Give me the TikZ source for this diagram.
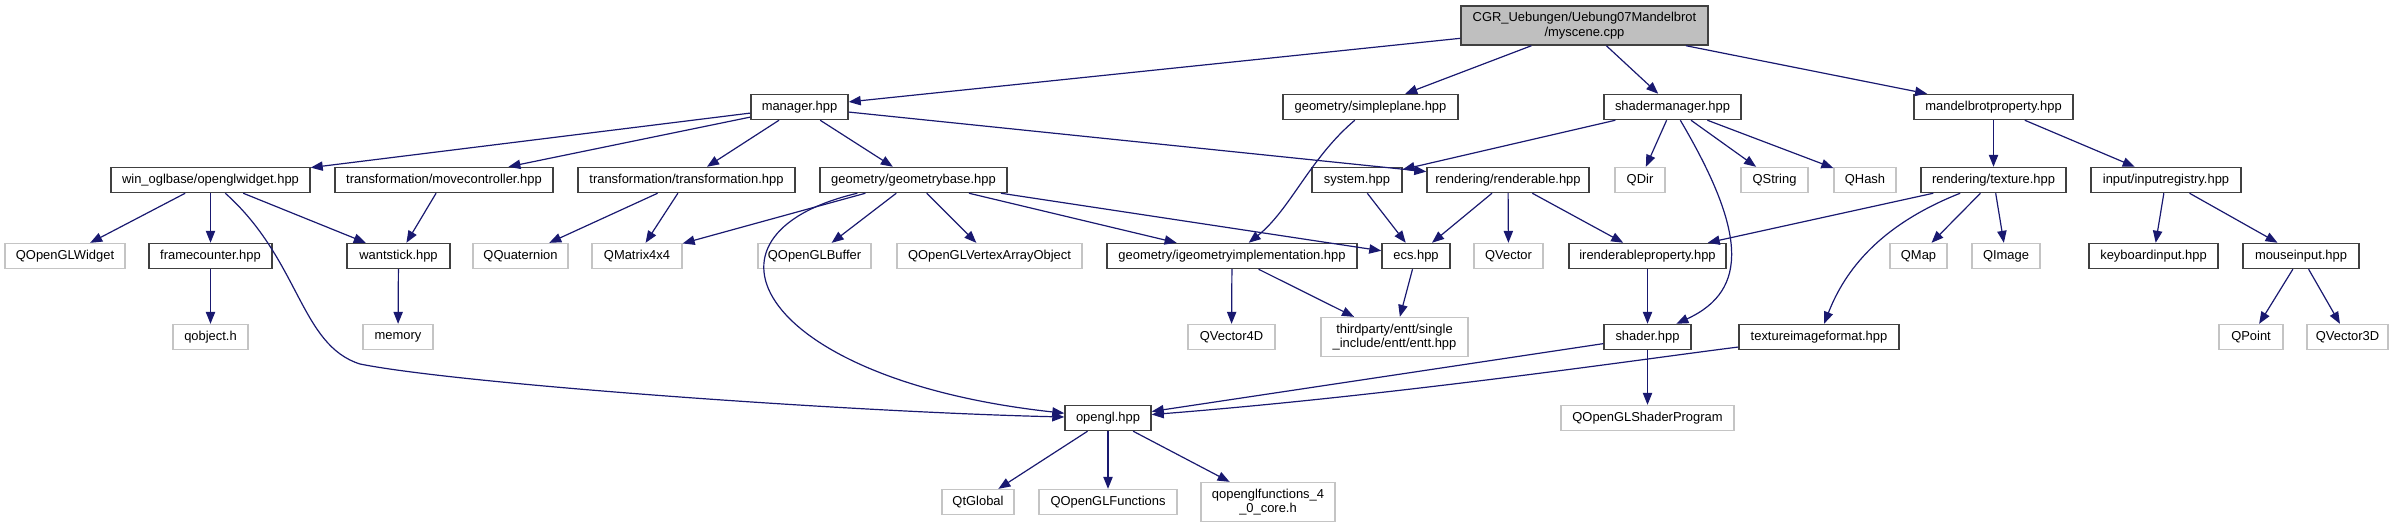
\documentclass[tikz,border=0pt]{standalone}
\usepackage{fontspec}
\setmainfont{Liberation Sans}
\usepackage{xcolor}
\usepackage{tikz}
\usetikzlibrary{arrows.meta}

\definecolor{edgeblue}{HTML}{191970}
\definecolor{darkframe}{HTML}{404040}
\definecolor{lightframe}{HTML}{C4C4C4}
\definecolor{rootfill}{HTML}{BFBFBF}

\begin{document}
\begin{tikzpicture}[
    x=0.75pt, y=-0.75pt,
    header/.style={draw=darkframe, line width=1.1pt, minimum height=18.75pt, inner xsep=2pt, inner ysep=1pt, align=center, font=\fontsize{9.7pt}{10.8pt}\selectfont},
    extern/.style={header, draw=lightframe, line width=1pt},
    srcfile/.style={header, fill=rootfill, minimum height=29.25pt},
    twoline/.style={minimum height=29.25pt},
    boxw/.style={minimum width=#1*0.75pt},
    arrow/.style={-{Triangle[length=9pt, width=7pt]}, draw=edgeblue, line width=0.9pt}
]
    \useasboundingbox (0,0) rectangle (2393,529);

    \node[srcfile, boxw=247] (scene)  at (1584.5,25.5) {CGR\_Uebungen/Uebung07Mandelbrot\\/myscene.cpp};

    \node[header, boxw=97]  (manager) at (799.5,107)  {manager.hpp};
    \node[header, boxw=175] (plane)   at (1370.5,107) {geometry/simpleplane.hpp};
    \node[header, boxw=137] (shmgr)   at (1672.5,107) {shadermanager.hpp};
    \node[header, boxw=159] (mandel)  at (1993.5,107) {mandelbrotproperty.hpp};

    \node[header, boxw=199] (glwidget)   at (210.5,180)  {win\_oglbase/openglwidget.hpp};
    \node[header, boxw=218] (movectrl)   at (444,180)    {transformation/movecontroller.hpp};
    \node[header, boxw=217] (transf)     at (686.5,180)  {transformation/transformation.hpp};
    \node[header, boxw=187] (geobase)    at (913.5,180)  {geometry/geometrybase.hpp};
    \node[header, boxw=90]  (system)     at (1357,180)   {system.hpp};
    \node[header, boxw=162] (renderable) at (1508,180)   {rendering/renderable.hpp};
    \node[extern, boxw=50]  (qdir)       at (1640,180)   {QDir};
    \node[extern, boxw=67]  (qstring)    at (1774.5,180) {QString};
    \node[extern, boxw=62]  (qhash)      at (1865,180)   {QHash};
    \node[header, boxw=145] (texture)    at (1993.5,180) {rendering/texture.hpp};
    \node[header, boxw=150] (inputreg)   at (2166,180)   {input/inputregistry.hpp};

    \node[extern, boxw=120] (qglwidget)  at (65,256)     {QOpenGLWidget};
    \node[header, boxw=123] (framectr)   at (210.5,256)  {framecounter.hpp};
    \node[header, boxw=103] (wantstick)  at (398.5,256)  {wantstick.hpp};
    \node[extern, boxw=95]  (qquat)      at (520.5,256)  {QQuaternion};
    \node[extern, boxw=90]  (qmat)       at (637,256)    {QMatrix4x4};
    \node[extern, boxw=113] (qbuffer)    at (814.5,256)  {QOpenGLBuffer};
    \node[extern, boxw=185] (qvao)       at (989.5,256)  {QOpenGLVertexArrayObject};
    \node[header, boxw=250] (geoimpl)    at (1232,256)   {geometry/igeometryimplementation.hpp};
    \node[header, boxw=68]  (ecs)        at (1416,256)   {ecs.hpp};
    \node[extern, boxw=69]  (qvector)    at (1508.5,256) {QVector};
    \node[header, boxw=157] (renderprop) at (1647.5,256) {irenderableproperty.hpp};
    \node[extern, boxw=57]  (qmap)       at (1918.5,256) {QMap};
    \node[extern, boxw=68]  (qimage)     at (2006,256)   {QImage};
    \node[header, boxw=129] (keyboard)   at (2153.5,256) {keyboardinput.hpp};
    \node[header, boxw=116] (mouse)      at (2301,256)   {mouseinput.hpp};

    \node[extern, boxw=75]  (qobject)    at (210.5,337)  {qobject.h};
    \node[extern, boxw=70]  (memory)     at (398,337)    {memory};
    \node[extern, boxw=87]  (qvec4)      at (1231.5,337) {QVector4D};
    \node[extern, boxw=147, twoline] (entt) at (1394.5,337) {thirdparty/entt/single\\\_include/entt/entt.hpp};
    \node[header, boxw=87]  (shader)     at (1647.5,337) {shader.hpp};
    \node[header, boxw=160] (texfmt)     at (1819,337)   {textureimageformat.hpp};
    \node[extern, boxw=64]  (qpoint)     at (2251,337)   {QPoint};
    \node[extern, boxw=81]  (qvec3)      at (2347.5,337) {QVector3D};

    \node[header, boxw=86]  (opengl)     at (1108,418)   {opengl.hpp};
    \node[extern, boxw=173] (qshprog)    at (1647.5,418) {QOpenGLShaderProgram};

    \node[extern, boxw=72]  (qtglobal)   at (978,502)    {QtGlobal};
    \node[extern, boxw=138] (qglfunc)    at (1108,502)   {QOpenGLFunctions};
    \node[extern, boxw=134, twoline] (qglfunc4) at (1268,502) {qopenglfunctions\_4\\\_0\_core.h};

    \draw[arrow] (scene) -- (manager);
    \draw[arrow] (scene) -- (plane);
    \draw[arrow] (scene) -- (shmgr);
    \draw[arrow] (scene) -- (mandel);

    \draw[arrow] (manager) -- (glwidget);
    \draw[arrow] (manager) -- (movectrl);
    \draw[arrow] (manager) -- (transf);
    \draw[arrow] (manager) -- (geobase);
    \draw[arrow] (manager) -- (renderable);
    \draw[arrow] (plane) .. controls (1310,158) and (1290,210) .. (geoimpl);
    \draw[arrow] (shmgr) -- (system);
    \draw[arrow] (shmgr) -- (qdir);
    \draw[arrow] (shmgr) -- (qstring);
    \draw[arrow] (shmgr) -- (qhash);
    \draw[arrow] (shmgr) .. controls (1745,230) and (1750,290) .. (shader);
    \draw[arrow] (mandel) -- (texture);
    \draw[arrow] (mandel) -- (inputreg);

    \draw[arrow] (glwidget) -- (qglwidget);
    \draw[arrow] (glwidget) -- (framectr);
    \draw[arrow] (glwidget) -- (wantstick);
    \draw[arrow] (glwidget) .. controls (300,260) and (300,345) .. (360,364) .. controls (460,384) and (850,412) .. (opengl);
    \draw[arrow] (movectrl) -- (wantstick);
    \draw[arrow] (transf) -- (qquat);
    \draw[arrow] (transf) -- (qmat);
    \draw[arrow] (geobase) -- (qmat);
    \draw[arrow] (geobase) .. controls (680,235) and (760,380) .. (opengl);
    \draw[arrow] (geobase) -- (qbuffer);
    \draw[arrow] (geobase) -- (qvao);
    \draw[arrow] (geobase) -- (geoimpl);
    \draw[arrow] (geobase) -- (ecs);
    \draw[arrow] (system) -- (ecs);
    \draw[arrow] (renderable) -- (ecs);
    \draw[arrow] (renderable) -- (qvector);
    \draw[arrow] (renderable) -- (renderprop);
    \draw[arrow] (texture) -- (renderprop);
    \draw[arrow] (texture) -- (qmap);
    \draw[arrow] (texture) -- (qimage);
    \draw[arrow] (texture) .. controls (1880,225) and (1845,270) .. (texfmt);
    \draw[arrow] (inputreg) -- (keyboard);
    \draw[arrow] (inputreg) -- (mouse);

    \draw[arrow] (framectr) -- (qobject);
    \draw[arrow] (wantstick) -- (memory);
    \draw[arrow] (geoimpl) -- (qvec4);
    \draw[arrow] (geoimpl) -- (entt);
    \draw[arrow] (ecs) -- (entt);
    \draw[arrow] (renderprop) -- (shader);
    \draw[arrow] (mouse) -- (qpoint);
    \draw[arrow] (mouse) -- (qvec3);

    \draw[arrow] (shader) -- (opengl);
    \draw[arrow] (shader) -- (qshprog);
    \draw[arrow] (texfmt) .. controls (1650,358) and (1400,395) .. (opengl);

    \draw[arrow] (opengl) -- (qtglobal);
    \draw[arrow] (opengl) -- (qglfunc);
    \draw[arrow] (opengl) -- (qglfunc4);
\end{tikzpicture}
\end{document}
